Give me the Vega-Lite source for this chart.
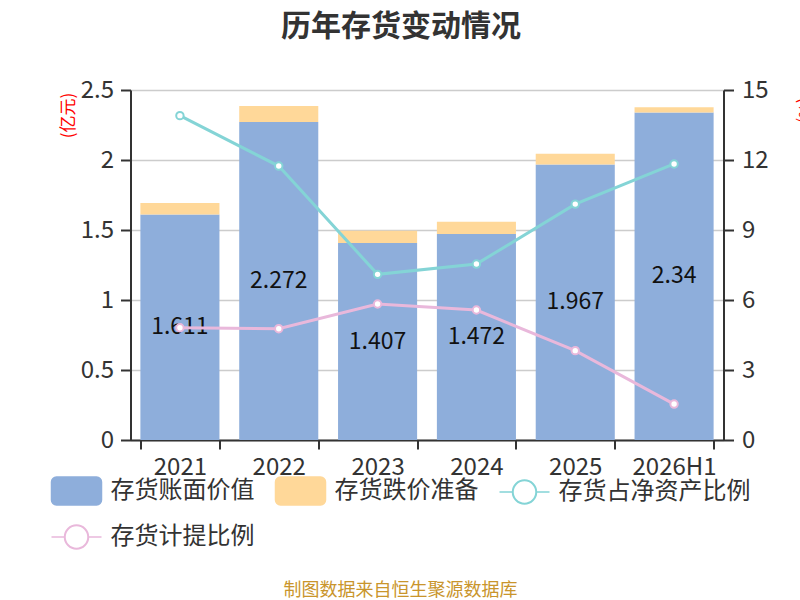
{
  "$schema": "https://vega.github.io/schema/vega-lite/v6.json",
  "autosize": "none",
  "width": 593,
  "height": 350,
  "padding": {"left": 130.5, "top": 90, "right": 76.5, "bottom": 160},
  "background": "white",
  "config": {
    "font": "Noto Sans CJK SC",
    "view": {"stroke": null},
    "axis": {
      "labelFont": "Noto Sans CJK SC",
      "titleFont": "Noto Sans CJK SC",
      "labelFontSize": 24,
      "labelColor": "#333333",
      "domainColor": "#333333",
      "domainWidth": 2,
      "tickColor": "#333333",
      "tickWidth": 2
    },
    "legend": {
      "labelFont": "Noto Sans CJK SC"
    }
  },
  "title": {
    "text": "历年存货变动情况",
    "fontSize": 30,
    "fontWeight": "bold",
    "color": "#333333",
    "anchor": "middle",
    "frame": "group",
    "dx": -26,
    "offset": 36
  },
  "data": {
    "values": [
      {"year": "2021", "series": "存货账面价值", "value": 1.611},
      {"year": "2022", "series": "存货账面价值", "value": 2.272},
      {"year": "2023", "series": "存货账面价值", "value": 1.407},
      {"year": "2024", "series": "存货账面价值", "value": 1.472},
      {"year": "2025", "series": "存货账面价值", "value": 1.967},
      {"year": "2026H1", "series": "存货账面价值", "value": 2.34},
      {"year": "2021", "series": "存货跌价准备", "value": 0.082},
      {"year": "2022", "series": "存货跌价准备", "value": 0.114},
      {"year": "2023", "series": "存货跌价准备", "value": 0.087},
      {"year": "2024", "series": "存货跌价准备", "value": 0.087},
      {"year": "2025", "series": "存货跌价准备", "value": 0.078},
      {"year": "2026H1", "series": "存货跌价准备", "value": 0.037},
      {"year": "2021", "series": "存货占净资产比例", "value": 13.9},
      {"year": "2022", "series": "存货占净资产比例", "value": 11.74},
      {"year": "2023", "series": "存货占净资产比例", "value": 7.1},
      {"year": "2024", "series": "存货占净资产比例", "value": 7.54},
      {"year": "2025", "series": "存货占净资产比例", "value": 10.11},
      {"year": "2026H1", "series": "存货占净资产比例", "value": 11.83},
      {"year": "2021", "series": "存货计提比例", "value": 4.81},
      {"year": "2022", "series": "存货计提比例", "value": 4.77},
      {"year": "2023", "series": "存货计提比例", "value": 5.83},
      {"year": "2024", "series": "存货计提比例", "value": 5.57},
      {"year": "2025", "series": "存货计提比例", "value": 3.83},
      {"year": "2026H1", "series": "存货计提比例", "value": 1.54}
    ]
  },
  "layer": [
    {
      "transform": [{"filter": "datum.series === '存货账面价值' || datum.series === '存货跌价准备'"}],
      "mark": {"type": "bar"},
      "encoding": {
        "x": {
          "field": "year",
          "type": "nominal",
          "sort": ["2021", "2022", "2023", "2024", "2025", "2026H1"],
          "scale": {"paddingInner": 0.2, "paddingOuter": 0.1},
          "axis": {
            "tickBand": "extent",
            "tickSize": 9,
            "labelPadding": 6,
            "labelAngle": 0,
            "grid": false,
            "title": "制图数据来自恒生聚源数据库",
            "titleColor": "#C9952C",
            "titleFontSize": 18,
            "titleFontWeight": "normal",
            "titleX": 269.5,
            "titleY": 150,
            "titleAlign": "center",
            "titleBaseline": "middle"
          }
        },
        "y": {
          "field": "value",
          "type": "quantitative",
          "stack": "zero",
          "scale": {"domain": [0, 2.5], "nice": false},
          "axis": {
            "values": [0, 0.5, 1, 1.5, 2, 2.5],
            "format": "~g",
            "grid": true,
            "gridColor": "#cccccc",
            "gridWidth": 1.5,
            "tickSize": 10,
            "labelPadding": 7,
            "title": "(亿元)",
            "titleColor": "#ff0000",
            "titleFontSize": 17,
            "titleFontWeight": "normal",
            "titleX": -62,
            "titleY": 25,
            "titleAngle": -90,
            "titleAlign": "center",
            "titleBaseline": "middle"
          }
        },
        "color": {
          "field": "series",
          "type": "nominal",
          "scale": {
            "domain": ["存货账面价值", "存货跌价准备", "存货占净资产比例", "存货计提比例"],
            "range": ["#8eaedb", "#ffd899", "#84d4d6", "#e9b8db"]
          },
          "legend": {
            "title": null,
            "orient": "none",
            "legendX": -80,
            "legendY": 375,
            "direction": "horizontal",
            "columns": 3,
            "labelFontSize": 24,
            "labelColor": "#333333",
            "labelOffset": 8,
            "labelLimit": 400,
            "columnPadding": 18,
            "rowPadding": 3,
            "symbolSize": 2500,
            "encode": {
              "symbols": {
                "update": {
                  "shape": {"signal": "(datum.value === '存货账面价值' || datum.value === '存货跌价准备') ? 'M-0.8,-0.56H0.8A0.2,0.2 0 0 1 1,-0.36V0.36A0.2,0.2 0 0 1 0.8,0.56H-0.8A0.2,0.2 0 0 1 -1,0.36V-0.36A0.2,0.2 0 0 1 -0.8,-0.56Z' : 'M-1,0H-0.48M0.48,0H1M-0.48,0A0.48,0.48 0 1 1 0.48,0A0.48,0.48 0 1 1 -0.48,0ZM-0.46,0A0.46,0.46 0 1 0 0.46,0A0.46,0.46 0 1 0 -0.46,0Z'"},
                  "fill": {"signal": "datum.value === '存货账面价值' ? '#8eaedb' : datum.value === '存货跌价准备' ? '#ffd899' : datum.value === '存货占净资产比例' ? '#84d4d6' : '#e9b8db'"},
                  "stroke": {"signal": "datum.value === '存货占净资产比例' ? '#84d4d6' : datum.value === '存货计提比例' ? '#e9b8db' : 'transparent'"},
                  "strokeWidth": {"value": 1.5},
                  "size": {"value": 2500},
                  "opacity": {"value": 1}
                }
              }
            }
          }
        },
        "order": {"field": "series", "sort": "ascending"}
      }
    },
    {
      "transform": [{"filter": "datum.series === '存货账面价值'"}],
      "mark": {"type": "text", "fontSize": 23, "color": "#111111", "baseline": "middle", "font": "Noto Sans CJK SC"},
      "encoding": {
        "x": {"field": "year", "type": "nominal", "sort": ["2021", "2022", "2023", "2024", "2025", "2026H1"]},
        "y": {"field": "value", "type": "quantitative", "scale": {"domain": [0, 5], "nice": false}, "axis": null},
        "text": {"field": "value", "type": "quantitative"}
      }
    },
    {
      "transform": [{"filter": "datum.series === '存货占净资产比例' || datum.series === '存货计提比例'"}],
      "mark": {
        "type": "line",
        "strokeWidth": 3,
        "point": {"filled": false, "fill": "white", "size": 55, "strokeWidth": 2}
      },
      "encoding": {
        "x": {"field": "year", "type": "nominal", "sort": ["2021", "2022", "2023", "2024", "2025", "2026H1"]},
        "y": {
          "field": "value",
          "type": "quantitative",
          "scale": {"domain": [0, 15], "nice": false},
          "axis": {
            "orient": "right",
            "values": [0, 3, 6, 9, 12, 15],
            "grid": false,
            "tickSize": 10,
            "labelPadding": 8,
            "title": "(%)",
            "titleColor": "#ff0000",
            "titleFontSize": 16,
            "titleFontWeight": "normal",
            "titleX": 80,
            "titleY": 20,
            "titleAngle": 90,
            "titleAlign": "center",
            "titleBaseline": "middle"
          }
        },
        "color": {
          "field": "series",
          "type": "nominal",
          "scale": {
            "domain": ["存货账面价值", "存货跌价准备", "存货占净资产比例", "存货计提比例"],
            "range": ["#8eaedb", "#ffd899", "#84d4d6", "#e9b8db"]
          }
        }
      }
    }
  ],
  "resolve": {"scale": {"y": "independent"}}
}
